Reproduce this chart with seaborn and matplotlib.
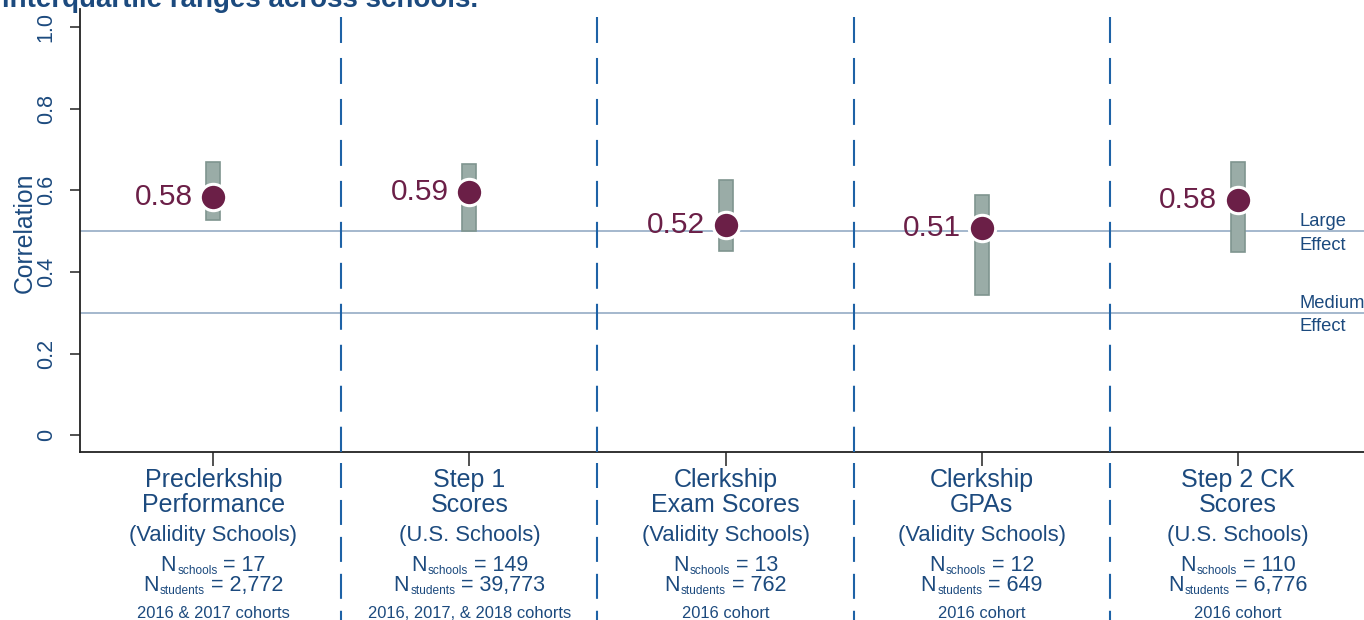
import numpy as np
import pandas as pd
import matplotlib
matplotlib.use("Agg")
import matplotlib.pyplot as plt
import matplotlib.transforms as mtransforms
import seaborn as sns

# ---------------- data ----------------
cat_line1 = ["Preclerkship", "Step 1", "Clerkship", "Clerkship", "Step 2 CK"]
cat_line2 = ["Performance", "Scores", "Exam Scores", "GPAs", "Scores"]
populations = ["(Validity Schools)", "(U.S. Schools)", "(Validity Schools)",
               "(Validity Schools)", "(U.S. Schools)"]
n_schools = ["17", "149", "13", "12", "110"]
n_students = ["2,772", "39,773", "762", "649", "6,776"]
cohorts = ["2016 & 2017 cohorts", "2016, 2017, & 2018 cohorts", "2016 cohort",
           "2016 cohort", "2016 cohort"]
median_r = [0.583, 0.596, 0.516, 0.508, 0.576]
value_labels = ["0.58", "0.59", "0.52", "0.51", "0.58"]
iqr_low = [0.527, 0.500, 0.450, 0.343, 0.448]
iqr_high = [0.670, 0.664, 0.625, 0.588, 0.670]
effect_levels = [0.5, 0.3]
effect_top = ["Large", "Medium"]
effect_bottom = ["Effect", "Effect"]
yticks = [0, 0.2, 0.4, 0.6, 0.8, 1.0]
ytick_labels = ["0", "0.2", "0.4", "0.6", "0.8", "1.0"]
title_text = "interquartile ranges across schools."

# ---------------- style ----------------
sns.set_theme(style="white")
plt.rcParams["font.family"] = ["Liberation Sans", "DejaVu Sans"]
plt.rcParams["lines.scale_dashes"] = False

BLUE = "#1c4a7e"
MAROON = "#6b1f47"
DASH = "#1e62a6"
BAR = "#9aaca7"
BAR_EDGE = "#7f958f"
HLINE = "#9db2c9"

W, H = 1364, 620
fig = plt.figure(figsize=(W / 100, H / 100), dpi=100)
ax_left, ax_bottom_px, ax_top_px = 80, 452, 9.3
ax = fig.add_axes([ax_left / W, 1 - ax_bottom_px / H,
                   1 - ax_left / W, (ax_bottom_px - ax_top_px) / H])

df = pd.DataFrame({"pos": np.arange(len(median_r)), "r": median_r,
                   "lo": iqr_low, "hi": iqr_high})

ax.set_xlim(-0.5205, 4.493)
ax.set_ylim(-0.041, 1.043)

# effect reference lines
for lvl in effect_levels:
    ax.axhline(lvl, color=HLINE, lw=1.3, zorder=1)

# IQR bars
ax.bar(df["pos"], df["hi"] - df["lo"], bottom=df["lo"], width=0.0547,
       color=BAR, edgecolor=BAR_EDGE, linewidth=1.2, zorder=2)

# median points
sns.scatterplot(data=df, x="pos", y="r", s=361, color=MAROON,
                edgecolor="white", linewidth=2.2, zorder=4, ax=ax, legend=False)

for x, y, lab in zip(df["pos"], df["r"], value_labels):
    ax.annotate(lab, (x, y), xytext=(-15, 0), textcoords="offset points",
                ha="right", va="center", fontsize=21.5, color=MAROON, zorder=5)

# effect labels
for lvl, t1, t2 in zip(effect_levels, effect_top, effect_bottom):
    ax.annotate(t1, (4.243, lvl), xytext=(0, 3.6), textcoords="offset points",
                ha="left", va="baseline", fontsize=13.2, color=BLUE,
                annotation_clip=False)
    ax.annotate(t2, (4.243, lvl), xytext=(0, -4.0), textcoords="offset points",
                ha="left", va="top", fontsize=13.2, color=BLUE,
                annotation_clip=False)

# dashed dividers
blend = mtransforms.blended_transform_factory(ax.transData, fig.transFigure)
for xd in [0.5, 1.5, 2.5, 3.5]:
    ax.plot([xd, xd], [1 - 17 / H, 1 - 452 / H], transform=blend,
            color=DASH, lw=1.5, linestyle=(0, (18.7, 10.8)), clip_on=False,
            zorder=3)
    ax.plot([xd, xd], [1 - 463 / H, 0], transform=blend,
            color=DASH, lw=1.5, linestyle=(0, (18.0, 8.6)), clip_on=False,
            zorder=3)

# axes styling
sns.despine(ax=ax, top=True, right=True)
for sp in ["left", "bottom"]:
    ax.spines[sp].set_color("#222222")
    ax.spines[sp].set_linewidth(1.3)
ax.set_yticks(yticks)
ax.set_yticklabels(ytick_labels, rotation=90, va="center")
ax.tick_params(axis="y", length=7.2, width=1.1, pad=9.5, labelsize=15.5,
               labelcolor=BLUE, color="#222222", left=True, direction="out")
ax.set_xticks(df["pos"])
ax.set_xticklabels([""] * len(df))
ax.tick_params(axis="x", length=10, width=1.1, color="#222222", bottom=True,
               direction="out")
ax.set_xlabel("")
ax.set_ylabel("Correlation", fontsize=17.8, color=BLUE)
ax.yaxis.set_label_coords(-0.034, 0.496)
ax.grid(False)

# partially visible title at the top
fig.text(478 / W, 1 - 7 / H, title_text, ha="right", va="baseline",
         fontsize=20, fontweight="bold", color=BLUE)

# ---------------- category labels below axis ----------------
def fy(px):
    return 1 - px / H

for i in range(len(df)):
    cx = ax.transData.transform((df["pos"][i], 0))[0]
    fig.text(cx / W, fy(487), cat_line1[i], ha="center", va="baseline",
             fontsize=18, color=BLUE)
    fig.text(cx / W, fy(512), cat_line2[i], ha="center", va="baseline",
             fontsize=18, color=BLUE)
    fig.text(cx / W, fy(541), populations[i], ha="center", va="baseline",
             fontsize=15.8, color=BLUE)
    fig.text(cx / W, fy(618), cohorts[i], ha="center", va="baseline",
             fontsize=11.9, color=BLUE)

renderer = fig.canvas.get_renderer()

def n_line(cx, base_px, sub, value):
    t1 = fig.text(0, fy(base_px), "N", ha="left", va="baseline",
                  fontsize=15.5, color=BLUE)
    t2 = fig.text(0, fy(base_px + 2.5), sub, ha="left", va="baseline",
                  fontsize=8.6, color=BLUE)
    t3 = fig.text(0, fy(base_px), "= " + value, ha="left", va="baseline",
                  fontsize=15.5, color=BLUE)
    w1 = t1.get_window_extent(renderer).width
    w2 = t2.get_window_extent(renderer).width
    w3 = t3.get_window_extent(renderer).width
    gap1, gap2 = 1.0, 6.0
    total = w1 + gap1 + w2 + gap2 + w3
    x0 = cx - total / 2
    t1.set_x(x0 / W)
    t2.set_x((x0 + w1 + gap1) / W)
    t3.set_x((x0 + w1 + gap1 + w2 + gap2) / W)

for i in range(len(df)):
    cx = ax.transData.transform((df["pos"][i], 0))[0]
    n_line(cx, 571, "schools", n_schools[i])
    n_line(cx, 591, "students", n_students[i])

fig.savefig("out.png", dpi=100)
